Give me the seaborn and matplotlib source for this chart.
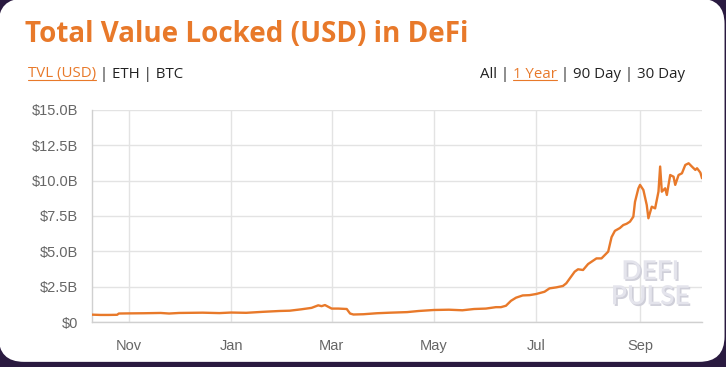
import numpy as np
import pandas as pd
import matplotlib.pyplot as plt
import matplotlib.dates as mdates
import matplotlib.patheffects as pe
from matplotlib.patches import FancyBboxPatch
import seaborn as sns

# TVL readings (billions USD)
dates = [
    "2019-10-10", "2019-10-15", "2019-10-20", "2019-10-25", "2019-10-26",
    "2019-11-01", "2019-11-10", "2019-11-20", "2019-11-25", "2019-12-01",
    "2019-12-15", "2019-12-25", "2020-01-01", "2020-01-10", "2020-01-20",
    "2020-01-30", "2020-02-05", "2020-02-12", "2020-02-18", "2020-02-22",
    "2020-02-24", "2020-02-26", "2020-03-01", "2020-03-05", "2020-03-10",
    "2020-03-12", "2020-03-14", "2020-03-20", "2020-03-28", "2020-04-05",
    "2020-04-15", "2020-04-22", "2020-05-01", "2020-05-10", "2020-05-18",
    "2020-05-25", "2020-06-01", "2020-06-07", "2020-06-10", "2020-06-13",
    "2020-06-16", "2020-06-19", "2020-06-23", "2020-06-27", "2020-07-01",
    "2020-07-06", "2020-07-09", "2020-07-13", "2020-07-17", "2020-07-19",
    "2020-07-24", "2020-07-26", "2020-07-29", "2020-08-01", "2020-08-06",
    "2020-08-09", "2020-08-12", "2020-08-13", "2020-08-15", "2020-08-17",
    "2020-08-20", "2020-08-22", "2020-08-24", "2020-08-26", "2020-08-28",
    "2020-08-29", "2020-08-31", "2020-09-01", "2020-09-03", "2020-09-05",
    "2020-09-06", "2020-09-08", "2020-09-10", "2020-09-12", "2020-09-13",
    "2020-09-14", "2020-09-16", "2020-09-17", "2020-09-19", "2020-09-21",
    "2020-09-22", "2020-09-24", "2020-09-26", "2020-09-28", "2020-09-30",
    "2020-10-02", "2020-10-04", "2020-10-05", "2020-10-07", "2020-10-08",
]
tvl = [
    0.52, 0.50, 0.50, 0.51, 0.60,
    0.61, 0.62, 0.64, 0.60, 0.64,
    0.66, 0.63, 0.67, 0.65, 0.72,
    0.78, 0.80, 0.90, 1.00, 1.18,
    1.12, 1.20, 0.95, 0.95, 0.92,
    0.60, 0.53, 0.55, 0.62, 0.66,
    0.70, 0.78, 0.85, 0.87, 0.83,
    0.92, 0.95, 1.05, 1.05, 1.15,
    1.50, 1.72, 1.88, 1.90, 1.98,
    2.14, 2.38, 2.45, 2.55, 2.74,
    3.56, 3.73, 3.68, 4.10, 4.50,
    4.50, 4.86, 4.98, 6.00, 6.45,
    6.65, 6.86, 6.95, 7.10, 7.45,
    8.50, 9.45, 9.70, 9.34, 8.28,
    7.34, 8.16, 8.04, 9.22, 11.0,
    9.22, 9.46, 8.99, 10.40, 10.28,
    9.70, 10.40, 10.52, 11.11, 11.23,
    10.99, 10.76, 10.88, 10.57, 10.17,
]
yticks = [0, 2.5, 5.0, 7.5, 10.0, 12.5, 15.0]
ytick_labels = ["$0", "$2.5B", "$5.0B", "$7.5B", "$10.0B", "$12.5B", "$15.0B"]

orange = "#e8792a"
grey_txt = "#666666"
grid_col = "#e3e3e3"

df = pd.DataFrame({"date": pd.to_datetime(dates), "tvl": tvl})

sns.set_style("white")
plt.rcParams["font.family"] = ["Liberation Sans", "DejaVu Sans"]

fig = plt.figure(figsize=(7.26, 3.67), dpi=100)
fig.patch.set_facecolor("#2a1a40")
card = FancyBboxPatch((-0.002, 0.014), 1.0, 0.99,
                      boxstyle="round,pad=0,rounding_size=0.035",
                      transform=fig.transFigure, facecolor="white",
                      edgecolor="none", zorder=-5, mutation_aspect=726 / 367)
fig.add_artist(card)

ax = fig.add_axes([0.1267, 0.1226, 0.8403, 0.5777])
ax.set_zorder(2)
ax.set_facecolor("none")

# watermark (under the line)
ax.text(0.915, 0.178, "DEFI\nPULSE", transform=ax.transAxes, ha="center",
        va="center", fontsize=19, fontweight="semibold", family="Lato",
        color="#e4e4ec", linespacing=1.0, zorder=1,
        path_effects=[pe.withSimplePatchShadow(offset=(1.2, -1.2),
                                               shadow_rgbFace="#cfcfd9", alpha=1)])

sns.lineplot(data=df, x="date", y="tvl", ax=ax, color=orange, linewidth=1.7,
             zorder=3)

ax.set_xlim(pd.Timestamp("2019-10-10"), pd.Timestamp("2020-10-08"))
ax.set_ylim(0, 15)
ax.set_yticks(yticks)
ax.set_yticklabels(ytick_labels)
ax.xaxis.set_major_locator(mdates.MonthLocator(bymonth=[11, 1, 3, 5, 7, 9]))
ax.xaxis.set_major_formatter(mdates.DateFormatter("%b"))
ax.set_xlabel("")
ax.set_ylabel("")

ax.grid(True, color=grid_col, linewidth=1)
for s in ["top", "right"]:
    ax.spines[s].set_visible(False)
for s in ["left", "bottom"]:
    ax.spines[s].set_color("#d0d0d0")
    ax.spines[s].set_linewidth(1)
ax.tick_params(axis="both", colors=grey_txt, labelsize=10.5, length=7,
               width=1, color=grid_col, pad=3)
ax.tick_params(axis="x", pad=5)

# header
fig.text(25 / 726, 1 - 34 / 367, "Total Value Locked (USD) in DeFi",
         fontsize=20, fontweight="bold", color=orange, family="Open Sans",
         va="center", ha="left")

fig.canvas.draw()
r = fig.canvas.get_renderer()
fs = 10.8

def add_link(x, y, label, ha="left"):
    t = fig.text(x, y, label, fontsize=fs, color=orange, family="Open Sans",
                 va="center", ha=ha)
    bb = t.get_window_extent(renderer=r).transformed(fig.transFigure.inverted())
    fig.add_artist(plt.Line2D([bb.x0, bb.x1], [bb.y0 + 0.004, bb.y0 + 0.004],
                              color=orange, linewidth=0.8,
                              transform=fig.transFigure))
    return bb

ty = 1 - 74 / 367
bb = add_link(28 / 726, ty, "TVL (USD)")
fig.text(bb.x1, ty, " | ETH | BTC", fontsize=fs, color="#222222",
         family="Open Sans", va="center", ha="left")

t2 = fig.text(685 / 726, ty, " | 90 Day | 30 Day", fontsize=fs,
              color="#222222", family="Open Sans", va="center", ha="right")
b2 = t2.get_window_extent(renderer=r).transformed(fig.transFigure.inverted())
b1 = add_link(b2.x0, ty, "1 Year", ha="right")
fig.text(b1.x0, ty, "All | ", fontsize=fs, color="#222222",
         family="Open Sans", va="center", ha="right")

fig.savefig("out.png", dpi=100, facecolor=fig.get_facecolor())
